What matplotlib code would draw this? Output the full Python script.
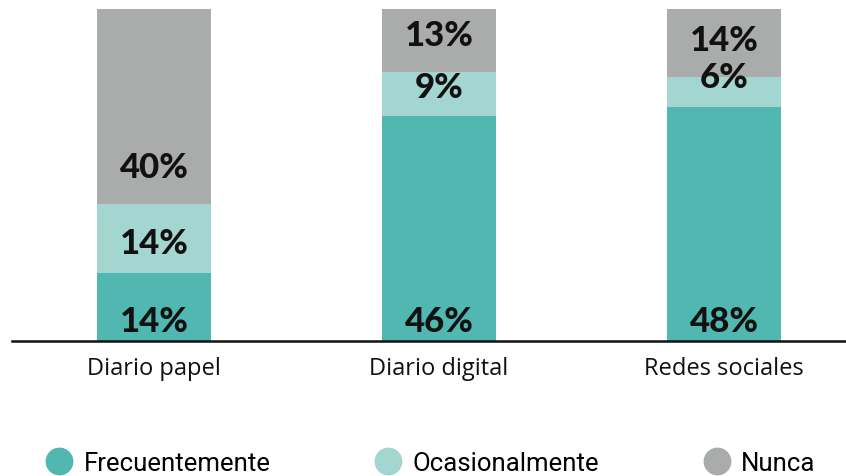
import matplotlib.pyplot as plt
from matplotlib.lines import Line2D

categorias = ["Diario papel", "Diario digital", "Redes sociales"]
series = ["Frecuentemente", "Ocasionalmente", "Nunca"]
frecuentemente = [14, 46, 48]
ocasionalmente = [14, 9, 6]
nunca = [40, 13, 14]

colores = ["#50B8B1", "#A3D5D1", "#AAABAB"]

fig = plt.figure(figsize=(8.46, 4.77), dpi=100)
ax = fig.add_axes([12 / 846, 1 - 342 / 477, 834 / 846, 332 / 477])

x = range(len(categorias))
base = [0, 0, 0]
# desplazamiento de la etiqueta desde la base de cada tramo
offsets = [4.1, 6.0, 7.6]
for valores, color, nombre, off in zip([frecuentemente, ocasionalmente, nunca], colores, series, offsets):
    ax.bar(x, valores, bottom=base, width=0.4, color=color, label=nombre)
    for i, v in enumerate(valores):
        ax.text(i, base[i] + off, f"{v}%", ha="center", va="center",
                fontsize=25, fontweight="black", family="Lato", color="#111111")
    base = [b + v for b, v in zip(base, valores)]

ax.set_xlim(-0.498, 2.428)
ax.set_ylim(0, 68)
ax.set_yticks([])
ax.set_xticks(list(x))
ax.set_xticklabels(categorias, fontsize=17, family="Open Sans", color="#111111")
ax.tick_params(axis="x", length=0, pad=11)
for s in ["top", "right", "left"]:
    ax.spines[s].set_visible(False)
ax.spines["bottom"].set_linewidth(1.8)
ax.spines["bottom"].set_color("#111111")

handles = [Line2D([], [], marker="o", linestyle="", markersize=19, color=c) for c in colores]
fig.legend(handles, series, loc="center", bbox_to_anchor=(0.508, 13 / 477), ncol=3,
           frameon=False, columnspacing=3.97, handletextpad=0.35, handlelength=1.2,
           prop={"family": "Roboto", "size": 18.5})

fig.savefig("out.png", dpi=100)
